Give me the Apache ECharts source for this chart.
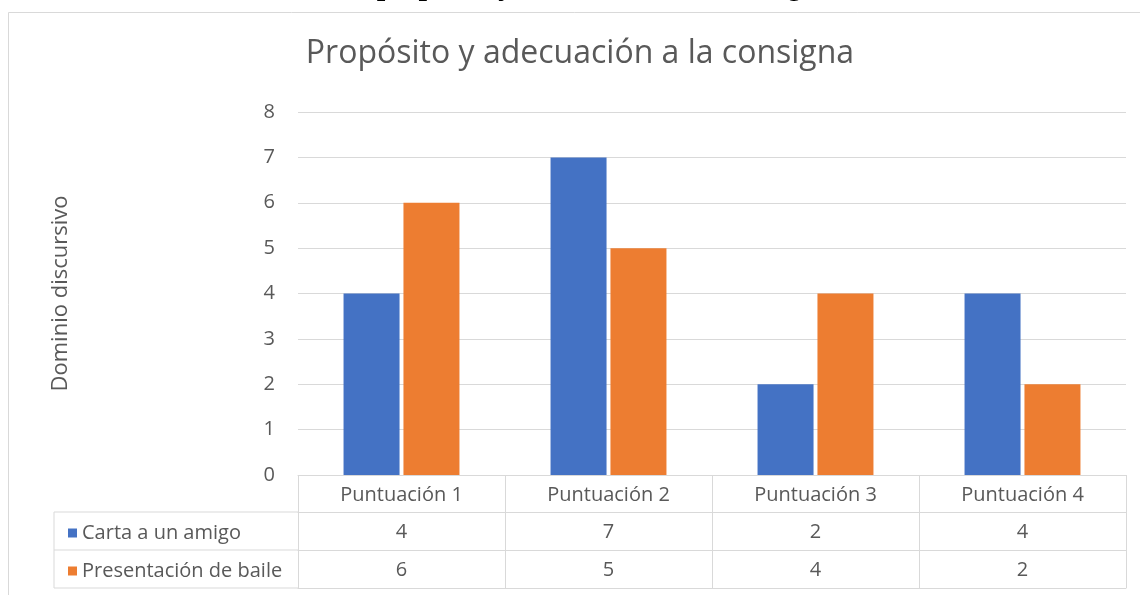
<!DOCTYPE html>
<html>
<head>
<meta charset="utf-8">
<script src="https://cdn.jsdelivr.net/npm/echarts@6/dist/echarts.min.js"></script>
<style>
    html, body { margin: 0; padding: 0; background: #fff; }
    #chart { width: 1140px; height: 595px; }
</style>
</head>
<body>
<div id="chart"></div>
<script>
    // datos del gráfico
    var categorias = ['Puntuación 1', 'Puntuación 2', 'Puntuación 3', 'Puntuación 4'];
    var nombres = ['Carta a un amigo', 'Presentación de baile'];
    var carta = [4, 7, 2, 4];
    var baile = [6, 5, 4, 2];
    var yMin = 0, yMax = 8, yPaso = 1;

    var gris = '#d9d9d9';
    var texto = '#595959';
    var fuente = '"Open Sans", "Noto Sans", sans-serif';

    var myChart = echarts.init(document.getElementById('chart'), null, { renderer: 'canvas' });

    function ejeTabla(valores, offset) {
        return {
            type: 'category',
            data: valores,
            position: 'bottom',
            offset: offset,
            axisLine: { show: true, lineStyle: { color: gris, width: 1 } },
            axisTick: { show: true, interval: 0, length: 38, lineStyle: { color: gris, width: 1 } },
            axisLabel: { show: true, interval: 0, margin: 10, fontSize: 20, color: texto, fontFamily: fuente },
            splitLine: { show: false }
        };
    }

    var option = {
        backgroundColor: '#fff',
        animation: false,
        title: {
            text: 'Propósito y adecuación a la consigna',
            left: 575,
            textAlign: 'center',
            top: 33,
            textStyle: { fontSize: 32, fontWeight: 'normal', color: texto, fontFamily: fuente }
        },
        legend: {
            orient: 'vertical',
            left: 63,
            top: 516,
            itemWidth: 9,
            itemHeight: 9,
            itemGap: 14,
            icon: 'rect',
            data: nombres,
            textStyle: { fontSize: 20, lineHeight: 24, color: texto, fontFamily: fuente }
        },
        grid: {
            left: 298,
            right: 14,
            top: 112,
            bottom: 120,
            outerBoundsMode: 'none'
        },
        xAxis: [
            {
                type: 'category',
                data: categorias,
                position: 'bottom',
                axisLine: { show: true, lineStyle: { color: gris, width: 1 } },
                axisTick: { show: true, interval: 0, length: 37, lineStyle: { color: gris, width: 1 } },
                axisLabel: { interval: 0, margin: 10, fontSize: 20, color: texto, fontFamily: fuente },
                splitLine: { show: false }
            },
            ejeTabla(carta.map(String), 37),
            ejeTabla(baile.map(String), 75),
            {
                type: 'category',
                data: categorias,
                position: 'bottom',
                offset: 113,
                axisLine: { show: true, lineStyle: { color: gris, width: 1 } },
                axisTick: { show: false },
                axisLabel: { show: false }
            }
        ],
        yAxis: {
            type: 'value',
            min: yMin,
            max: yMax,
            interval: yPaso,
            name: 'Dominio discursivo',
            nameLocation: 'middle',
            nameRotate: 90,
            nameGap: 226,
            nameTextStyle: { fontSize: 22, color: texto, fontFamily: fuente },
            axisLine: { show: false },
            axisTick: { show: false },
            axisLabel: { margin: 23, fontSize: 20, color: texto, fontFamily: fuente },
            splitLine: { show: true, lineStyle: { color: gris, width: 1 } }
        },
        series: [
            {
                name: nombres[0],
                type: 'bar',
                data: carta,
                barWidth: 56,
                barGap: '7%',
                itemStyle: { color: '#4472c4' }
            },
            {
                name: nombres[1],
                type: 'bar',
                data: baile,
                barWidth: 56,
                barGap: '7%',
                itemStyle: { color: '#ed7d31' }
            }
        ],
        graphic: [
            {
                type: 'text',
                left: 26,
                top: -28,
                silent: true,
                style: {
                    text: 'Resultado de evaluación del propósito y adecuación a la consigna',
                    font: 'italic bold 30px "Liberation Serif", serif',
                    fill: '#000'
                }
            },
            {
                type: 'rect',
                silent: true,
                shape: { x: 8.5, y: 12.5, width: 1300, height: 800 },
                style: { fill: null, stroke: gris, lineWidth: 1 }
            },
            { type: 'line', silent: true, shape: { x1: 54, y1: 512, x2: 298, y2: 512 }, style: { stroke: gris, lineWidth: 1 } },
            { type: 'line', silent: true, shape: { x1: 54, y1: 550, x2: 298, y2: 550 }, style: { stroke: gris, lineWidth: 1 } },
            { type: 'line', silent: true, shape: { x1: 54, y1: 588, x2: 298, y2: 588 }, style: { stroke: gris, lineWidth: 1 } },
            { type: 'line', silent: true, shape: { x1: 54, y1: 512, x2: 54, y2: 588 }, style: { stroke: gris, lineWidth: 1 } }
        ]
    };

    myChart.setOption(option);
    window.addEventListener('resize', myChart.resize);
</script>
</body>
</html>
